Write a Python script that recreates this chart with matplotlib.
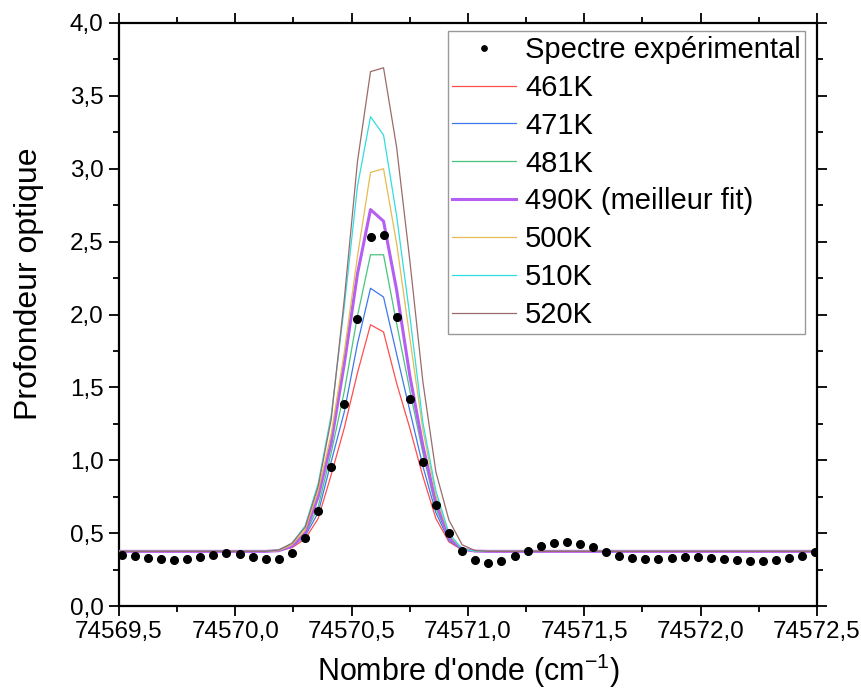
import numpy as np
import matplotlib
matplotlib.use("Agg")
import matplotlib.pyplot as plt
from matplotlib.ticker import MultipleLocator, FuncFormatter

plt.rcParams['font.family'] = ['Liberation Sans', 'DejaVu Sans']
plt.rcParams['mathtext.fontset'] = 'custom'
plt.rcParams['mathtext.rm'] = 'Liberation Sans'
plt.rcParams['mathtext.it'] = 'Liberation Sans:italic'

# experimental spectrum
wn_exp = [74569.512, 74569.568, 74569.625, 74569.681, 74569.737, 74569.793,
          74569.850, 74569.906, 74569.962, 74570.018, 74570.075, 74570.131,
          74570.187, 74570.243, 74570.300, 74570.356, 74570.412, 74570.468,
          74570.525, 74570.581, 74570.637, 74570.693, 74570.750, 74570.806,
          74570.862, 74570.918, 74570.975, 74571.031, 74571.087, 74571.143,
          74571.200, 74571.256, 74571.312, 74571.368, 74571.425, 74571.481,
          74571.537, 74571.593, 74571.650, 74571.706, 74571.762, 74571.818,
          74571.875, 74571.931, 74571.987, 74572.043, 74572.100, 74572.156,
          74572.212, 74572.268, 74572.325, 74572.381, 74572.437, 74572.493]
od_exp = [0.350, 0.343, 0.331, 0.320, 0.316, 0.320, 0.334, 0.350, 0.362,
          0.355, 0.338, 0.320, 0.325, 0.364, 0.469, 0.654, 0.956, 1.384,
          1.967, 2.534, 2.545, 1.985, 1.418, 0.986, 0.695, 0.499, 0.377,
          0.316, 0.297, 0.311, 0.343, 0.377, 0.414, 0.434, 0.437, 0.425,
          0.403, 0.373, 0.345, 0.331, 0.322, 0.320, 0.327, 0.334, 0.334,
          0.327, 0.320, 0.316, 0.309, 0.309, 0.316, 0.327, 0.343, 0.368]

# simulated spectra
wn_sim = [74569.500, 74570.131, 74570.187, 74570.243, 74570.300, 74570.356,
          74570.412, 74570.468, 74570.525, 74570.581, 74570.637, 74570.693,
          74570.750, 74570.806, 74570.862, 74570.918, 74570.975, 74571.031,
          74571.087, 74572.500]
od_461 = [0.375, 0.375, 0.38, 0.40, 0.46, 0.60, 0.90, 1.22, 1.60, 1.93, 1.88,
          1.53, 1.22, 0.89, 0.60, 0.44, 0.385, 0.376, 0.375, 0.375]
od_471 = [0.375, 0.375, 0.38, 0.405, 0.48, 0.64, 0.99, 1.33, 1.80, 2.18, 2.12,
          1.73, 1.34, 0.96, 0.64, 0.45, 0.385, 0.376, 0.375, 0.375]
od_481 = [0.375, 0.375, 0.38, 0.41, 0.49, 0.68, 1.05, 1.47, 1.99, 2.41, 2.41,
          1.94, 1.48, 1.05, 0.67, 0.46, 0.387, 0.376, 0.375, 0.375]
od_490 = [0.375, 0.375, 0.38, 0.41, 0.50, 0.75, 1.12, 1.66, 2.28, 2.72, 2.64,
          2.17, 1.58, 1.10, 0.71, 0.47, 0.39, 0.377, 0.375, 0.375]
od_500 = [0.375, 0.375, 0.38, 0.42, 0.52, 0.79, 1.18, 1.74, 2.40, 2.975, 3.00,
          2.49, 1.84, 1.21, 0.76, 0.49, 0.39, 0.377, 0.375, 0.375]
od_510 = [0.375, 0.375, 0.385, 0.43, 0.55, 0.84, 1.31, 2.05, 2.88, 3.357, 3.232,
          2.68, 1.99, 1.26, 0.79, 0.50, 0.39, 0.377, 0.375, 0.375]
od_520 = [0.375, 0.375, 0.385, 0.43, 0.54, 0.82, 1.28, 2.10, 3.05, 3.666, 3.693,
          3.15, 2.37, 1.54, 0.92, 0.59, 0.42, 0.38, 0.375, 0.375]

labels = ['461K', '471K', '481K', '490K (meilleur fit)', '500K', '510K', '520K']
colors = ['#ff4d4d', '#3f78ea', '#48c47c', '#b45ef2', '#e6bb50', '#30dde2', '#9c6a6a']
widths = [0.9, 0.9, 0.9, 2.2, 0.9, 0.9, 0.9]
sims = [od_461, od_471, od_481, od_490, od_500, od_510, od_520]

fig = plt.figure(figsize=(8.61, 6.99), dpi=100)
ax = fig.add_axes([0.1382, 0.1330, 0.8107, 0.8341])

ax.plot(wn_exp, od_exp, 'o', color='black', markersize=5.5, zorder=5,
        label='Spectre expérimental')
for od, lab, c, lw in zip(sims, labels, colors, widths):
    ax.plot(wn_sim, od, '-', color=c, lw=lw, label=lab, zorder=3)

ax.set_xlim(74569.5, 74572.5)
ax.set_ylim(0, 4.0)
ax.xaxis.set_major_locator(MultipleLocator(0.5))
ax.xaxis.set_minor_locator(MultipleLocator(0.25))
ax.yaxis.set_major_locator(MultipleLocator(0.5))
ax.yaxis.set_minor_locator(MultipleLocator(0.25))
comma = FuncFormatter(lambda v, p: f'{v:.1f}'.replace('.', ','))
ax.xaxis.set_major_formatter(comma)
ax.yaxis.set_major_formatter(comma)

ax.tick_params(which='both', direction='out', top=True, right=True,
               width=1.3, labelsize=17.5)
ax.tick_params(which='major', length=7.5)
ax.tick_params(which='minor', length=4)
for s in ax.spines.values():
    s.set_linewidth(1.6)

ax.set_xlabel("Nombre d'onde (cm$^{-1}$)", fontsize=22, labelpad=6)
ax.set_ylabel('Profondeur optique', fontsize=23)
ax.yaxis.set_label_coords(-0.108, 0.552)

leg = ax.legend(loc='upper right', bbox_to_anchor=(0.935, 0.955),
                bbox_transform=fig.transFigure, fontsize=21, frameon=True,
                fancybox=False, edgecolor='#808080', borderaxespad=0,
                borderpad=0.15, labelspacing=0.34, handlelength=2.2,
                handletextpad=0.3, markerscale=0.7)
leg.get_frame().set_linewidth(1.0)

fig.savefig('out.png', dpi=100)
